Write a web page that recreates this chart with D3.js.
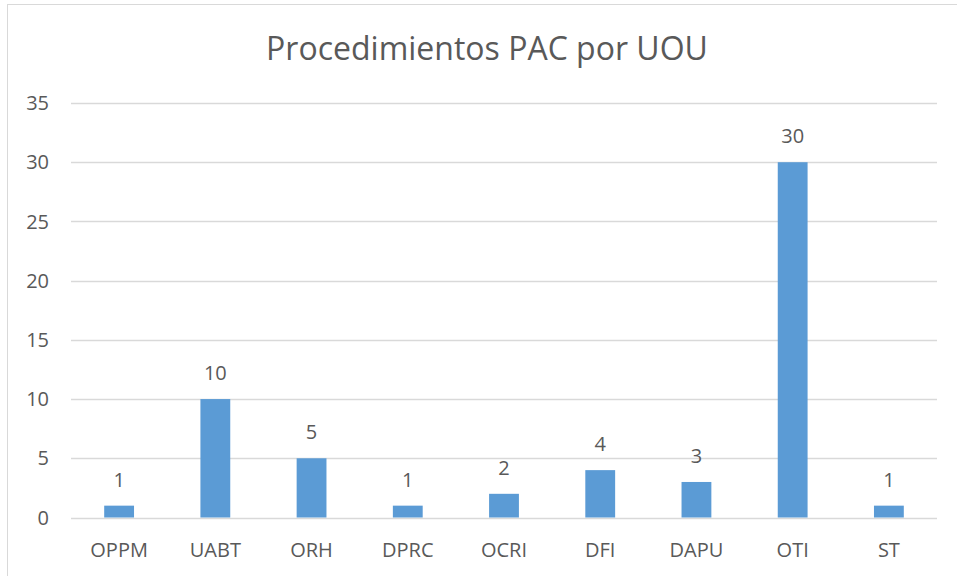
<!DOCTYPE html>
<html>
<head>
<meta charset="utf-8">
<script src="https://cdn.jsdelivr.net/npm/d3@7"></script>
<style>
  body { margin: 0; background: #fff; }
  text { font-family: "Open Sans", sans-serif; fill: #595959; }
</style>
</head>
<body>
<div id="chart"></div>
<script>
var categories = ["OPPM", "UABT", "ORH", "DPRC", "OCRI", "DFI", "DAPU", "OTI", "ST"];
var values = [1, 10, 5, 1, 2, 4, 3, 30, 1];
var yTicks = [0, 5, 10, 15, 20, 25, 30, 35];
var title = "Procedimientos PAC por UOU";

var W = 957, H = 576;
var margin = {top: 103, right: 20, bottom: 59, left: 71};
var width = 937 - margin.left;
var height = 517.5 - margin.top;

var root = d3.select("#chart").append("svg")
  .attr("width", W)
  .attr("height", H);

// chart frame
root.append("rect")
  .attr("x", 7.5).attr("y", 4.5)
  .attr("width", W + 10).attr("height", H + 10)
  .attr("fill", "#fff")
  .attr("stroke", "#d9d9d9")
  .attr("stroke-width", 1);

root.append("text")
  .attr("x", 487)
  .attr("y", 60)
  .attr("text-anchor", "middle")
  .style("font-size", "32px")
  .text(title);

var svg = root.append("g")
  .attr("transform", "translate(" + margin.left + "," + margin.top + ")");

var x = d3.scaleBand()
  .domain(categories)
  .range([0, width])
  .paddingInner(0.69)
  .paddingOuter(0.345);

var y = d3.scaleLinear()
  .domain([0, 35])
  .range([height, 0]);

// gridlines
svg.append("g")
  .selectAll("line")
  .data(yTicks)
  .enter()
  .append("line")
  .attr("x1", 0)
  .attr("x2", width)
  .attr("y1", function(d) { return Math.round(y(d)) + 0.5 })
  .attr("y2", function(d) { return Math.round(y(d)) + 0.5 })
  .attr("stroke", "#d9d9d9")
  .attr("stroke-width", 1.3);

// y labels
svg.append("g")
  .selectAll("text")
  .data(yTicks)
  .enter()
  .append("text")
  .attr("x", -22)
  .attr("y", function(d) { return y(d) })
  .attr("dy", "0.36em")
  .attr("text-anchor", "end")
  .style("font-size", "20px")
  .text(function(d) { return d });

// bars
svg.append("g")
  .selectAll("rect")
  .data(values)
  .enter()
  .append("rect")
  .attr("x", function(d, i) { return x(categories[i]) })
  .attr("y", function(d) { return y(d) })
  .attr("width", x.bandwidth())
  .attr("height", function(d) { return height - y(d) })
  .attr("fill", "#5b9bd5");

// value labels
svg.append("g")
  .selectAll("text")
  .data(values)
  .enter()
  .append("text")
  .attr("x", function(d, i) { return x(categories[i]) + x.bandwidth() / 2 })
  .attr("y", function(d) { return y(d) - 19 })
  .attr("text-anchor", "middle")
  .style("font-size", "20px")
  .text(function(d) { return d });

// category labels
svg.append("g")
  .selectAll("text")
  .data(categories)
  .enter()
  .append("text")
  .attr("x", function(d) { return x(d) + x.bandwidth() / 2 })
  .attr("y", height + 39)
  .attr("text-anchor", "middle")
  .style("font-size", "20px")
  .text(function(d) { return d });
</script>
</body>
</html>
